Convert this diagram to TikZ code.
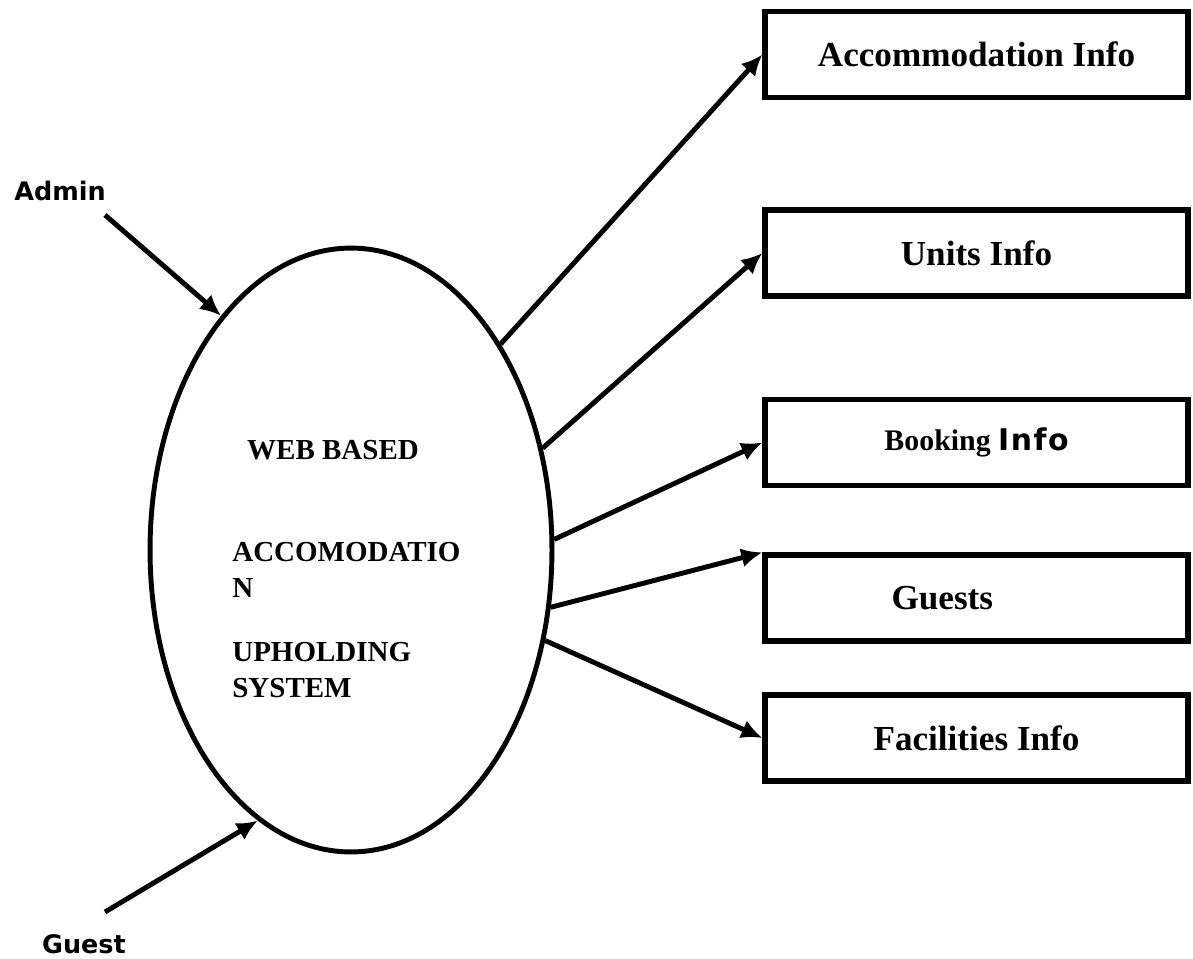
\documentclass[tikz,border=0pt]{standalone}
\usepackage{fontspec}
\setmainfont{Liberation Serif}
\newfontfamily\labelfont{DejaVu Sans}
\newfontfamily\infofont[LetterSpace=5]{DejaVu Sans}
\usepackage{tikz}
\usetikzlibrary{shapes.geometric}
\usetikzlibrary{arrows.meta}
\usetikzlibrary{positioning}
\tikzset{>={Latex[length=12pt,width=11pt]}}
\tikzset{
    infobox/.style={
        draw,
        line width=3pt,
        minimum width=8.46cm,
        minimum height=1.72cm,
        inner sep=0pt,
        font=\fontsize{20}{23}\selectfont\bfseries,
    },
    flow/.style={->, line width=2.8pt},
    actor/.style={font=\labelfont\fontsize{14.5}{17}\selectfont\bfseries},
    systext/.style={inner sep=0pt, font=\fontsize{16.5}{20.4}\selectfont\bfseries},
}

\begin{document}
\begin{tikzpicture}[x=0.02cm, y=-0.02cm]
        \useasboundingbox (0,0) rectangle (1193,958);

        % the system
        \node[
            draw,
            ellipse,
            line width=2.8pt,
            minimum width=8.04cm,
            minimum height=12.08cm,
            inner sep=0pt,
        ] (sys) at (351,550) {};
        \node[systext] (webbased) at (333,450) {WEB BASED};
        \node[systext, anchor=north west, align=left] (accline) at (232,542) {ACCOMODATIO\\N};
        \node[systext, anchor=north west, align=left] (upline) at (232,642) {UPHOLDING\\SYSTEM};

        % outputs
        \node[infobox] (accinfo) at (976.5,54.5) {Accommodation Info};
        \node[infobox] (units) at (976.5,253) {Units Info};
        \node[infobox, font=\fontsize{17}{20}\selectfont\bfseries] (booking) at (976.5,442.5) {Booking {\infofont Info}};
        \node[infobox, text width=7.2cm, align=left] (guests) at (976.5,598) {\hspace{1.9cm}Guests};
        \node[infobox] (facilities) at (976.5,738) {Facilities Info};

        \draw[flow] (sys.54.8) -- (accinfo.west);
        \draw[flow] (sys.28) -- (units.west);
        \draw[flow] (sys.3) -- (booking.west);
        \draw[flow] (sys.-16.6) -- (guests.north west);
        \draw[flow] (sys.-25.8) -- (facilities.west);

        % users
        \node[actor] (admin) at (60,191) {Admin};
        \coordinate (admintail) at (105,215);
        \draw[flow] (admintail) -- (sys.119.8);

        \node[actor] (guest) at (84,944) {Guest};
        \coordinate (guesttail) at (105,912);
        \draw[flow] (guesttail) -- (sys.251.4);
    \end{tikzpicture}
\end{document}
